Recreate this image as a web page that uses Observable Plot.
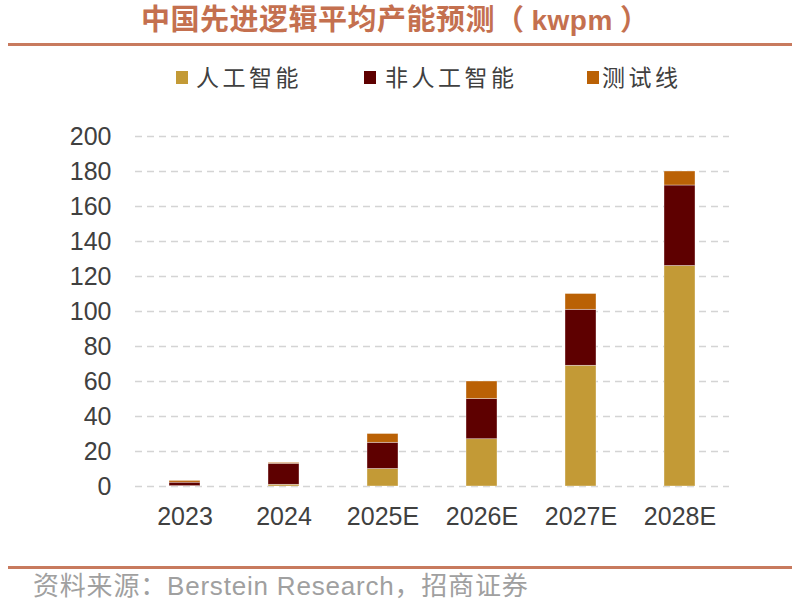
<!DOCTYPE html>
<html>
<head>
<meta charset="utf-8">
<script src="https://cdn.jsdelivr.net/npm/d3@7"></script>
<script src="https://cdn.jsdelivr.net/npm/@observablehq/plot@0.6"></script>
<style>
  html, body { margin: 0; padding: 0; background: #fff; }
  #page { position: relative; width: 805px; height: 603px; overflow: hidden; font-family: "Liberation Sans", "Noto Sans CJK SC", sans-serif; }
  #title { position: absolute; left: 141px; top: 6px; line-height: 1; font-family: "Liberation Sans", "Noto Sans CJK SC", sans-serif; font-weight: bold; font-size: 29px; letter-spacing: 0.5px; color: #C4704F; white-space: nowrap; }
  #title .u { padding: 0 7px; font-size: 28px; }
  .hline { position: absolute; left: 8px; width: 784px; height: 3px; background: #C87A5E; }
  .leg { position: absolute; font-family: "Noto Sans CJK SC", sans-serif; font-size: 23px; letter-spacing: 3.5px; color: #404040; white-space: nowrap; line-height: 1; }
  .sw { position: absolute; width: 12px; height: 13px; }
  #chart { position: absolute; left: 0; top: 100px; }
  #caption { position: absolute; left: 33px; top: 573px; line-height: 1; font-family: "Liberation Sans", "Noto Sans CJK SC", sans-serif; font-size: 26px; letter-spacing: 0.8px; color: #A0A0A0; white-space: nowrap; }
</style>
</head>
<body>
<div id="page">
  <div id="title">中国先进逻辑平均产能预测（<span class="u">kwpm</span>）</div>
  <div class="hline" style="top:43px"></div>
  <div id="legend"></div>
  <div id="chart"></div>
  <div class="hline" style="top:566px"></div>
  <div id="caption">资料来源：Berstein Research，招商证券</div>
</div>
<script>
const years = ["2023", "2024", "2025E", "2026E", "2027E", "2028E"];
const seriesNames = ["人工智能", "非人工智能", "测试线"];
const seriesColors = ["#C39A36", "#5E0000", "#BA6105"];
const aiValues = [0.2, 1, 10, 27, 69, 126];
const nonAiValues = [2, 12, 15, 23, 32, 46];
const testValues = [1, 0.5, 5, 10, 9, 8];
const yTicks = [0, 20, 40, 60, 80, 100, 120, 140, 160, 180, 200];

const seriesValues = [aiValues, nonAiValues, testValues];
const data = [];
seriesNames.forEach((s, i) => {
  years.forEach((y, j) => data.push({year: y, series: s, value: seriesValues[i][j]}));
});

// legend
const legendPos = [{sq: 176, tx: 196}, {sq: 364, tx: 385}, {sq: 587, tx: 602}];
const legend = document.getElementById("legend");
seriesNames.forEach((s, i) => {
  const sw = document.createElement("div");
  sw.className = "sw";
  sw.style.left = legendPos[i].sq + "px";
  sw.style.top = "71px";
  sw.style.background = seriesColors[i];
  legend.appendChild(sw);
  const t = document.createElement("div");
  t.className = "leg";
  t.style.left = legendPos[i].tx + "px";
  t.style.top = "65px";
  t.textContent = s;
  legend.appendChild(t);
});

const chart = Plot.plot({
  width: 805,
  height: 450,
  marginLeft: 135,
  marginRight: 76,
  marginTop: 36,
  marginBottom: 64,
  style: {fontFamily: "Liberation Sans, sans-serif", color: "#404040", background: "transparent"},
  x: {domain: years, paddingInner: 0.69, paddingOuter: 0.345, label: null},
  y: {domain: [0, 200], label: null},
  color: {domain: seriesNames, range: seriesColors},
  marks: [
    Plot.ruleY(yTicks, {stroke: "#d4d4d4", strokeWidth: 1.4, strokeDasharray: "7,5"}),
    Plot.barY(data, {x: "year", y: "value", fill: "series", order: seriesNames, stroke: "#fff", strokeWidth: 0.6, strokeOpacity: 0.6}),
    Plot.axisX({tickSize: 0, tickPadding: 21, fontSize: 25, label: null, fill: "#404040"}),
    Plot.axisY({ticks: yTicks, tickSize: 0, tickPadding: 24, fontSize: 25, label: null, fill: "#404040"})
  ]
});
document.getElementById("chart").appendChild(chart);
</script>
</body>
</html>
